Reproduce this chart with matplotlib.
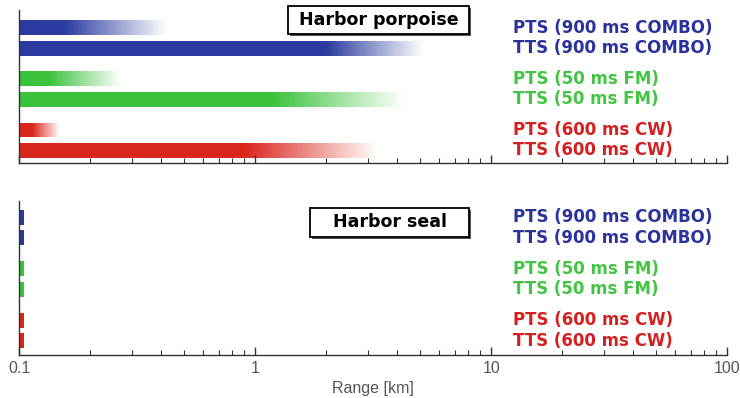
import numpy as np
import matplotlib
matplotlib.use("Agg")
import matplotlib.pyplot as plt
from matplotlib.colors import to_rgb
from matplotlib.patches import Rectangle
from matplotlib.ticker import LogLocator, NullFormatter, FixedLocator, FixedFormatter

# ---- data ----
labels = ["PTS (900 ms COMBO)", "TTS (900 ms COMBO)",
          "PTS (50 ms FM)", "TTS (50 ms FM)",
          "PTS (600 ms CW)", "TTS (600 ms CW)"]
row_pos = [0, 1, 2.5, 3.5, 5, 6]
bar_colors = ["#2b3a9e", "#2b3a9e", "#3cc23c", "#3cc23c", "#d9261c", "#d9261c"]
text_colors = ["#2c329c", "#2c329c", "#44c444", "#44c444", "#d42020", "#d42020"]

# Harbor porpoise: range where bar is solid, and max range where it fades out (km)
porpoise_solid = [0.155, 2.0, 0.134, 1.18, 0.114, 0.91]
porpoise_max = [0.424, 5.15, 0.27, 4.3, 0.148, 3.3]
# Harbor seal
seal_solid = [0.105, 0.105, 0.105, 0.105, 0.105, 0.105]
seal_max = [0.105, 0.105, 0.105, 0.105, 0.105, 0.105]

x_start = 0.1
xticks = [0.1, 1, 10, 100]
xticklabels = ["0.1", "1", "10", "100"]

fig = plt.figure(figsize=(7.4, 3.98), dpi=100)
ax1 = fig.add_axes([0.0257, 0.5905, 0.957, 0.384])
ax2 = fig.add_axes([0.0257, 0.108, 0.957, 0.387])

bar_h = 0.73


def draw_bars(ax, solid, fmax):
    for y, s, m, c in zip(row_pos, solid, fmax, bar_colors):
        rgb = np.array(to_rgb(c))
        ax.barh(y, s - x_start, left=x_start, height=bar_h, color=c,
                linewidth=0, antialiased=False)
        if m > s:
            n = 80
            edges = np.logspace(np.log10(s), np.log10(m), n + 1)
            for i in range(n):
                t = (i + 0.5) / n
                col = rgb * (1 - t) + np.ones(3) * t
                ax.barh(y, edges[i + 1] - edges[i], left=edges[i], height=bar_h,
                        color=col, linewidth=0, antialiased=False)


def style(ax, show_labels):
    ax.set_xscale("log")
    ax.set_xlim(0.1, 100)
    for sp in ["top", "right"]:
        ax.spines[sp].set_visible(False)
    for sp in ["left", "bottom"]:
        ax.spines[sp].set_color("#333333")
        ax.spines[sp].set_linewidth(1.0)
    ax.set_yticks([])
    ax.xaxis.set_major_locator(FixedLocator(xticks))
    ax.xaxis.set_minor_locator(LogLocator(base=10, subs=np.arange(2, 10)))
    ax.xaxis.set_minor_formatter(NullFormatter())
    ax.tick_params(axis="x", which="major", direction="in", length=6, width=1,
                   color="#333333", labelsize=11.5, labelcolor="#555555", pad=4,
                   labelfontfamily="Liberation Sans")
    ax.tick_params(axis="x", which="minor", direction="in", length=3.5, width=0.8,
                   color="#333333")
    if show_labels:
        ax.xaxis.set_major_formatter(FixedFormatter(xticklabels))
    else:
        ax.set_xticklabels([])
    for y, lab, tc in zip(row_pos, labels, text_colors):
        ax.text(0.697, y, lab, transform=ax.get_yaxis_transform(), color=tc,
                fontsize=12, fontweight="bold", va="center", ha="left",
                family="DejaVu Sans")


draw_bars(ax1, porpoise_solid, porpoise_max)
draw_bars(ax2, seal_solid, seal_max)
style(ax1, False)
style(ax2, True)
ax1.set_ylim(6.61, -0.85)
ax2.set_ylim(6.7, -0.8)

ax2.set_xlabel("Range [km]", fontsize=11.5, color="#555555", labelpad=4,
               family="Liberation Sans")

# title boxes
def title_box(ax, x0, x1, y0, y1, text):
    ax.add_patch(Rectangle((x0 + 0.003, y0 - 0.012), x1 - x0, y1 - y0,
                           transform=ax.transAxes, facecolor="#555555",
                           edgecolor="none", clip_on=False, zorder=4))
    ax.add_patch(Rectangle((x0, y0), x1 - x0, y1 - y0, transform=ax.transAxes,
                           facecolor="white", edgecolor="black", linewidth=1.3,
                           clip_on=False, zorder=5))
    ax.text((x0 + x1) / 2, (y0 + y1) / 2, text, transform=ax.transAxes,
            fontsize=12.5, fontweight="bold", ha="center", va="center", zorder=6)

# porpoise box: px x 288-469, y 6-34 ; axes top px 10, height 153
title_box(ax1, (288 - 19) / 708, (469 - 19) / 708,
          1 - (34 - 10) / 153, 1 - (6 - 10) / 153, "Harbor porpoise")
# seal box: px x 310-469, y 208-237; axes top px 201, height 154
title_box(ax2, (310 - 19) / 708, (469 - 19) / 708,
          1 - (237 - 201) / 154, 1 - (208 - 201) / 154, "Harbor seal")

fig.savefig("out.png", dpi=100)
